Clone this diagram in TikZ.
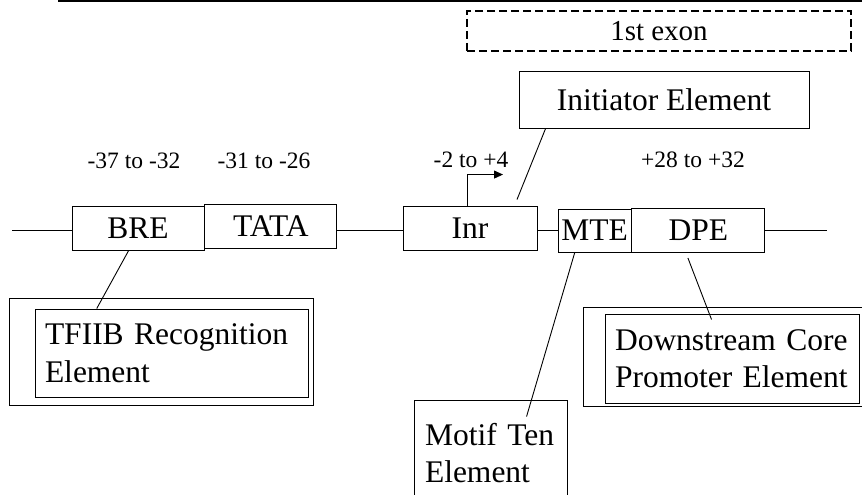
\documentclass[tikz,border=0pt]{standalone}
\usepackage{fontspec}
\setmainfont{Liberation Serif}
\usetikzlibrary{arrows.meta, positioning, calc}

\begin{document}
\begin{tikzpicture}[x=1pt, y=-1pt,
        font=\fontsize{31.5}{37.5}\selectfont,
        box/.style={draw, line width=0.9pt, inner sep=0pt, minimum height=44pt},
        callout/.style={draw, line width=0.9pt, inner ysep=0pt, align=left},
        frame/.style={draw, line width=0.9pt, inner sep=0pt},
        poslabel/.style={font=\fontsize{23.5}{28}\selectfont},
        dna/.style={line width=0.9pt},
        link/.style={line width=0.9pt},
        arr/.style={-{Triangle[length=9pt,width=8pt]}, line width=0.9pt}]
        \useasboundingbox (0,0) rectangle (862,495);
        \draw[line width=1.6pt] (58,0.8) -- (862,0.8);
        % exon and the core elements on the strand
        \node[box, dash pattern=on 8pt off 4pt, line width=1.6pt, minimum width=384pt, minimum height=40pt,
          font=\fontsize{29}{34}\selectfont] (exon) at (659,31) {1st exon};
        \node[box, minimum width=132pt] (bre) at (138,228) {BRE};
        \node[box, minimum width=132pt, right=0pt of bre, yshift=1.5pt] (tata) {TATA};
        \node[box, minimum width=134pt] (inr) at (470,228) {Inr};
        \node[box, minimum width=73pt, minimum height=43pt] (mte) at (594.5,230.5) {MTE};
        \node[box, minimum width=133pt, right=0pt of mte] (dpe) {DPE};
        \node[box, minimum width=290pt, minimum height=57pt] (init) at (664,99.5) {Initiator Element};
        \coordinate (dnaL) at (12,230);
        \coordinate (dnaR) at (827,230);
        \draw[dna] (dnaL) -- (dnaL -| bre.west);
        \draw[dna] (dnaL -| tata.east) -- (dnaL -| inr.west);
        \draw[dna] (dnaL -| inr.east) -- (dnaL -| mte.west);
        \draw[dna] (dnaL -| dpe.east) -- (dnaR);
        % positions
        \node[poslabel] (posbre) at (134,161) {-37 to -32};
        \node[poslabel] (postata) at (264,161) {-31 to -26};
        \node[poslabel] (posinr) at (471,160) {-2 to +4};
        \node[poslabel] (posdpe) at (693,160) {+28 to +32};
        \draw[arr] ($(inr.north)+(-3,0)$) |- ($(inr.north)+(33,-31)$);
        % callouts
        \node[frame, minimum width=304pt, minimum height=107pt] (tfiibframe) at (161,351.5) {};
        \node[callout, inner xsep=10pt, text width=253pt, minimum height=88pt] (tfiib) at (171.5,353)
          {TFIIB Recognition\\Element};
        \node[callout, inner xsep=11pt, text width=131pt, minimum height=106pt] (motif) at (490.5,453)
          {Motif Ten\\Element};
        \node[frame, minimum width=283pt, minimum height=99pt] (dpeframe) at (724.5,356.5) {};
        \node[callout, inner xsep=10pt, text width=234pt, minimum height=89pt] (dpeinner) at (732,358.5)
          {Downstream Core\\Promoter Element};
        \draw[link] ($(bre.south west)!0.43!(bre.south east)$) -- ($(tfiib.north west)!0.227!(tfiib.north east)$);
        \draw[link] ($(init.south west)!0.093!(init.south east)$) -- ($(inr.north)+(47,-6)$);
        \draw[link] ($(mte.south west)!0.233!(mte.south east)$) -- ($(motif.north west)+(113,17)$);
        \draw[link] ($(dpe.south)+(-10.5,5)$) -- ($(dpeinner.north west)+(107,6)$);
      \end{tikzpicture}
\end{document}
